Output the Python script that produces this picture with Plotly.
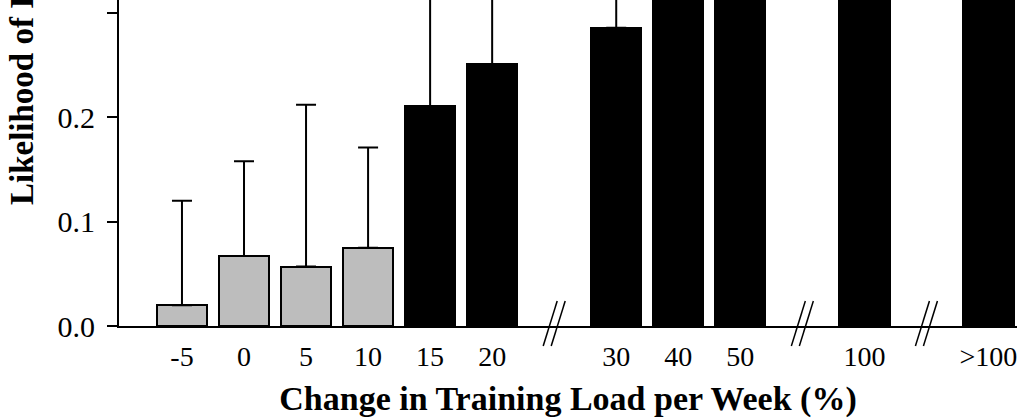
import plotly.graph_objects as go

# ---- data ----
categories = ["-5", "0", "5", "10", "15", "20", "30", "40", "50", "100", ">100"]
likelihood = [0.020, 0.067, 0.057, 0.075, 0.211, 0.251, 0.286, 0.38, 0.45, 0.60, 0.70]
upper_limit = [0.120, 0.158, 0.212, 0.171, 0.45, 0.50, 0.55, 0.60, 0.65, 0.80, 0.90]
high_risk = [False, False, False, False, True, True, True, True, True, True, True]
breaks_after = ["20", "50", "100"]   # axis breaks drawn after these categories

# ---- layout helpers (category slots with a gap at each axis break) ----
slots = []
breaks = []
pos = 0
for c in categories:
    slots.append(pos)
    pos += 1
    if c in breaks_after:
        breaks.append(pos)
        pos += 1

W, H = 1024, 419
ML, MR, MT, MB = 119, 7, 0, 93
X_RANGE = [-1.015, 13.46]
Y_RANGE = [0, 0.3125]
plot_w = W - ML - MR
plot_h = H - MT - MB


def xpaper(xd, px_off=0.0):
    return (xd - X_RANGE[0]) / (X_RANGE[1] - X_RANGE[0]) + px_off / plot_w


def ypaper_px(px_off):
    # px_off: pixels above the x axis (negative = below)
    return px_off / plot_h


fig = go.Figure()

for flag, color in [(False, "#bdbdbd"), (True, "#000000")]:
    xs = [s for s, h in zip(slots, high_risk) if h == flag]
    ys = [v for v, h in zip(likelihood, high_risk) if h == flag]
    plus = [u - v for u, v, h in zip(upper_limit, likelihood, high_risk) if h == flag]
    fig.add_trace(go.Bar(
        x=xs, y=ys, width=0.81,
        marker=dict(color=color, line=dict(color="#000000", width=2)),
        error_y=dict(type="data", symmetric=False, array=plus,
                     arrayminus=[0] * len(plus), color="#000000",
                     thickness=2, width=10),
        showlegend=False,
    ))

# axis-break marks "//"
shapes = []
for b in breaks:
    for off in (-4, 4):
        shapes.append(dict(
            type="line", xref="paper", yref="paper",
            x0=xpaper(b, off - 7), y0=ypaper_px(-20),
            x1=xpaper(b, off + 7), y1=ypaper_px(25),
            line=dict(color="#000000", width=1.5),
        ))

fig.update_layout(
    width=W, height=H,
    margin=dict(l=ML, r=MR, t=MT, b=MB, pad=0),
    paper_bgcolor="white", plot_bgcolor="white",
    bargap=0,
    shapes=shapes,
    font=dict(family="Liberation Serif", color="#000000"),
    xaxis=dict(
        range=X_RANGE, showgrid=False, zeroline=False,
        showline=True, linecolor="#000000", linewidth=2,
        tickmode="array", tickvals=slots, ticktext=categories,
        ticks="", tickfont=dict(size=28, family="Liberation Serif"),
        ticklabelstandoff=4,
        title=dict(text="Change in Training Load per Week (%)",
                   font=dict(size=34, family="Liberation Serif", weight="bold"),
                   standoff=16),
    ),
    yaxis=dict(
        range=Y_RANGE, showgrid=False, zeroline=False,
        showline=True, linecolor="#000000", linewidth=2,
        tickmode="array", tickvals=[0, 0.1, 0.2, 0.3], tickformat=".1f",
        ticks="outside", ticklen=10, tickwidth=2, tickcolor="#000000",
        tickfont=dict(size=30, family="Liberation Serif"),
        ticklabelstandoff=6,
    ),
    annotations=[dict(
        text="Likelihood of Injury", textangle=-90,
        xref="paper", yref="paper",
        x=(22 - ML) / plot_w, xanchor="center",
        y=(plot_h - 207) / plot_h, yanchor="bottom",
        showarrow=False,
        font=dict(size=33, family="Liberation Serif", weight="bold", color="#000000"),
    )],
)

fig.write_html("out.html")
